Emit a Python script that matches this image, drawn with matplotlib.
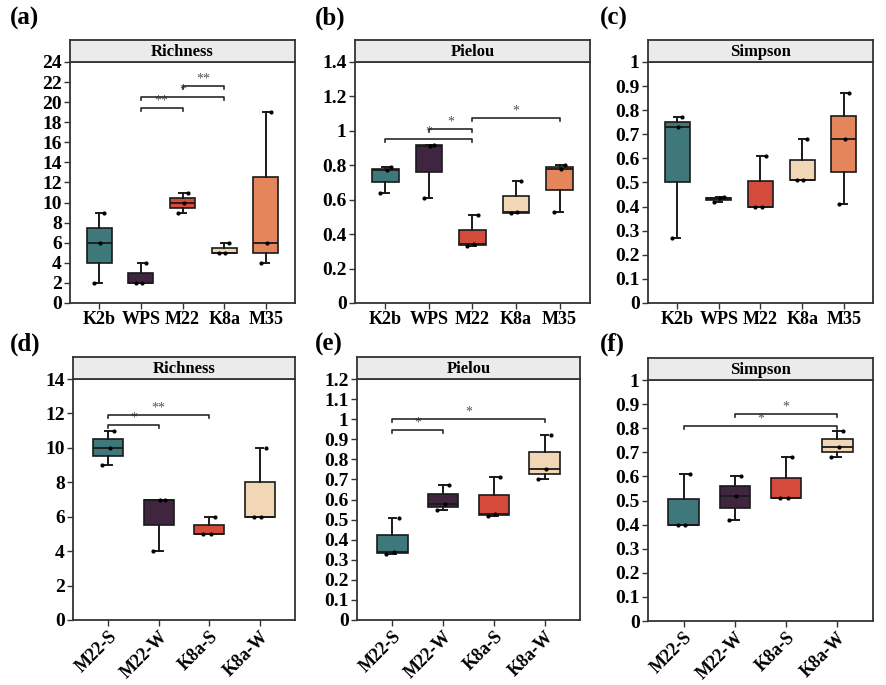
import numpy as np
import matplotlib
matplotlib.use("Agg")
import matplotlib.pyplot as plt

plt.rcParams['font.family'] = ['Liberation Serif', 'DejaVu Serif']
plt.rcParams['font.weight'] = 'bold'

#****************** data ******************
groups_top = ["K2b", "WPS", "M22", "K8a", "M35"]
groups_bot = ["M22-S", "M22-W", "K8a-S", "K8a-W"]

colors_top = ["#3f787b", "#3f2540", "#d44a3b", "#f1d7b6", "#e5855b"]
colors_bot = ["#3f787b", "#3f2540", "#d44a3b", "#f1d7b6"]

# three replicates per group
richness_top = [[2, 6, 9], [2, 2, 4], [9, 10, 11], [5, 5, 6], [4, 6, 19]]
pielou_top = [[0.64, 0.77, 0.79], [0.61, 0.91, 0.92], [0.33, 0.34, 0.51],
              [0.52, 0.53, 0.71], [0.53, 0.78, 0.80]]
simpson_top = [[0.27, 0.73, 0.77], [0.42, 0.435, 0.44], [0.40, 0.40, 0.61],
               [0.51, 0.51, 0.68], [0.41, 0.68, 0.87]]

richness_bot = [[9, 10, 11], [4, 7, 7], [5, 5, 6], [6, 6, 10]]
pielou_bot = [[0.33, 0.34, 0.51], [0.55, 0.58, 0.67], [0.52, 0.53, 0.71], [0.70, 0.75, 0.92]]
simpson_bot = [[0.40, 0.40, 0.61], [0.42, 0.52, 0.60], [0.51, 0.51, 0.68], [0.68, 0.72, 0.79]]

# significance: (group i, group j, y, label)
sig_a = [(2, 3, 19.4, "**"), (2, 4, 20.5, "*"), (3, 4, 21.6, "**")]
sig_b = [(1, 3, 0.95, "*"), (2, 3, 1.01, "*"), (3, 5, 1.075, "*")]
sig_c = []
sig_d = [(1, 2, 11.3, "*"), (1, 3, 11.9, "**")]
sig_e = [(1, 2, 0.945, "*"), (1, 4, 1.0, "*")]
sig_f = [(1, 4, 0.81, "*"), (2, 4, 0.857, "*")]

yticks_a = np.arange(0, 25, 2)
yticks_b = [0, 0.2, 0.4, 0.6, 0.8, 1, 1.2, 1.4]
yticks_c = [0, 0.1, 0.2, 0.3, 0.4, 0.5, 0.6, 0.7, 0.8, 0.9, 1]
yticks_d = np.arange(0, 15, 2)
yticks_e = [0, 0.1, 0.2, 0.3, 0.4, 0.5, 0.6, 0.7, 0.8, 0.9, 1, 1.1, 1.2]
yticks_f = yticks_c

jitter = [-0.12, 0.03, 0.12]

#****************** drawing ******************
fig = plt.figure(figsize=(8.87, 6.85), dpi=100)
W, H = 887.0, 685.0


def panel(left, right, top, bottom, groups, data, cols, ymax, yticks, sigs, title, tag, tagx, tagy, rot):
    ax = fig.add_axes([left / W, 1 - bottom / H, (right - left) / W, (bottom - top) / H])
    pos = np.arange(1, len(groups) + 1)
    bp = ax.boxplot(data, positions=pos, widths=0.6, patch_artist=True, showfliers=False,
                    whis=1.5, capwidths=0.15, zorder=2)
    for patch, c in zip(bp['boxes'], cols):
        patch.set_facecolor(c)
        patch.set_edgecolor("#1a1a1a")
        patch.set_linewidth(1.2)
    for ln in bp['whiskers'] + bp['caps']:
        ln.set_color("#1a1a1a")
        ln.set_linewidth(1.4)
    for ln in bp['medians']:
        ln.set_color("#1a1a1a")
        ln.set_linewidth(1.3)
    for i, vals in enumerate(data):
        xs = [pos[i] + jitter[k % 3] for k in range(len(vals))]
        ax.scatter(xs, vals, s=4, color="black", zorder=3)
    for g1, g2, y, lab in sigs:
        h = ymax * 0.012
        ax.plot([g1, g1, g2, g2], [y - h, y, y, y - h], color="#2a2a2a", lw=1.2, zorder=3)
        ax.text((g1 + g2) / 2, y + ymax * 0.002, lab, ha="center", va="bottom", fontsize=10,
                color="#555555", fontweight="normal")
    ax.set_ylim(0, ymax)
    ax.set_xlim(0.3, len(groups) + 0.7)
    ax.set_yticks(yticks)
    ax.set_yticklabels(["%g" % v for v in yticks], fontsize=14, fontweight="bold")
    ax.set_xticks(pos)
    if rot:
        ax.set_xticklabels(groups, fontsize=13, fontweight="bold", rotation=45, ha="right",
                           rotation_mode="anchor")
    else:
        ax.set_xticklabels(groups, fontsize=13, fontweight="bold")
    ax.tick_params(axis="both", direction="out", length=4, width=1.0, color="#333333", pad=2)
    for s in ax.spines.values():
        s.set_color("#333333")
        s.set_linewidth(1.3)
    # strip on top
    st = fig.add_axes([left / W, 1 - top / H, (right - left) / W, 22 / H])
    st.set_facecolor("#ebebeb")
    st.set_xticks([])
    st.set_yticks([])
    for s in st.spines.values():
        s.set_color("#333333")
        s.set_linewidth(1.3)
    st.text(0.5, 0.45, title, ha="center", va="center", fontsize=12, fontweight="bold",
            transform=st.transAxes)
    fig.text(tagx / W, 1 - tagy / H, tag, fontsize=18, fontweight="bold", ha="left", va="center")
    return ax


panel(70, 295, 62, 303, groups_top, richness_top, colors_top, 24, yticks_a, sig_a,
      "Richness", "(a)", 10, 18, False)
panel(355, 590, 62, 303, groups_top, pielou_top, colors_top, 1.4, yticks_b, sig_b,
      "Pielou", "(b)", 315, 18, False)
panel(648, 873, 62, 303, groups_top, simpson_top, colors_top, 1.0, yticks_c, sig_c,
      "Simpson", "(c)", 600, 18, False)
panel(73, 295, 379, 620, groups_bot, richness_bot, colors_bot, 14, yticks_d, sig_d,
      "Richness", "(d)", 10, 344, True)
panel(357, 580, 379, 620, groups_bot, pielou_bot, colors_bot, 1.2, yticks_e, sig_e,
      "Pielou", "(e)", 315, 344, True)
panel(648, 873, 380, 621, groups_bot, simpson_bot, colors_bot, 1.0, yticks_f, sig_f,
      "Simpson", "(f)", 600, 344, True)

plt.savefig("out.png", dpi=100)
